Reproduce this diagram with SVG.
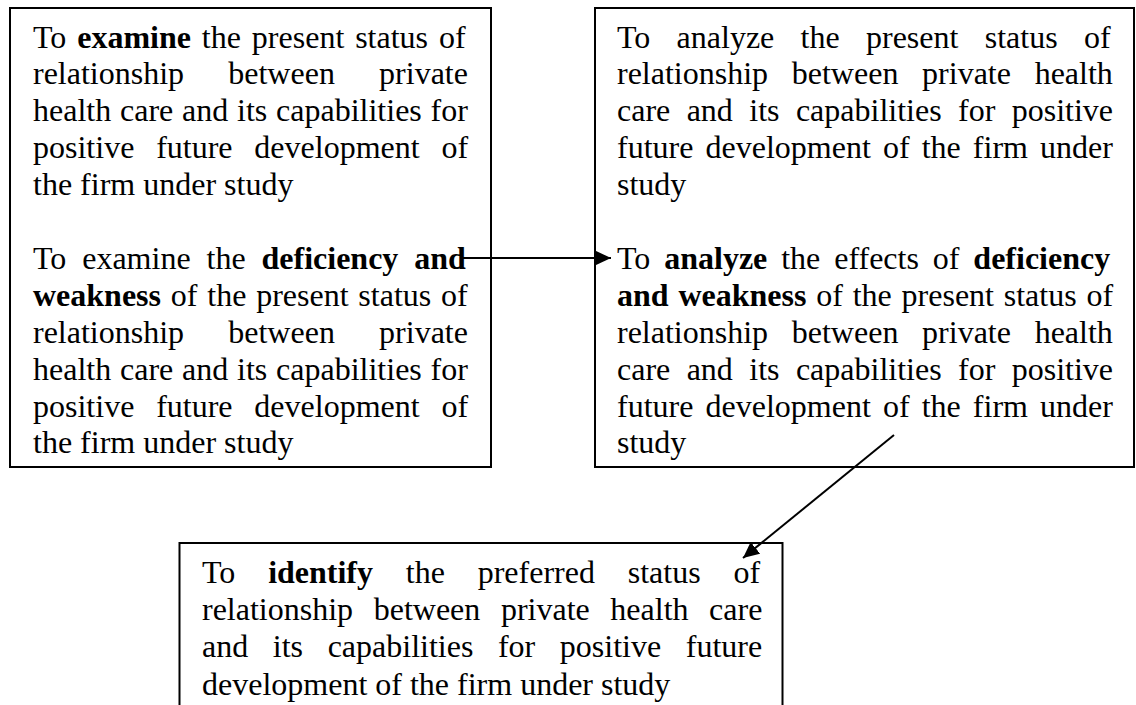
<svg xmlns="http://www.w3.org/2000/svg" width="1136" height="705" viewBox="0 0 1136 705">
  <style>
    .box { fill: #fff; stroke: #000; stroke-width: 2; }
    .t { font-family: "Liberation Serif", "Times New Roman", serif; font-size: 32px; fill: #000; }
    .b { font-weight: bold; }
    .conn { stroke: #000; stroke-width: 2; fill: none; }
  </style>
  <defs>
    <marker id="arrow" markerUnits="userSpaceOnUse" markerWidth="17" markerHeight="15" refX="16" refY="7.5" orient="auto">
      <path d="M0,0 L16,7.5 L0,15 z" fill="#000"/>
    </marker>
  </defs>

  <rect width="1136" height="705" fill="#fff"/>

  <!-- Left box: examine -->
  <g id="node-examine">
    <rect class="box" x="10" y="8" width="481" height="459"/>
    <text class="t" x="33" y="47.5" word-spacing="2.9">To <tspan class="b">examine</tspan> the present status of</text>
    <text class="t" x="33" y="84.4" word-spacing="36.2">relationship between private</text>
    <text class="t" x="33" y="121.3" word-spacing="0.8">health care and its capabilities for</text>
    <text class="t" x="33" y="158.2" word-spacing="13.8">positive future development of</text>
    <text class="t" x="33" y="195.1">the firm under study</text>
    <text class="t" x="33" y="268.9" word-spacing="7.9">To examine the <tspan class="b">deficiency and</tspan></text>
    <text class="t" x="33" y="305.8" word-spacing="1.8"><tspan class="b">weakness</tspan> of the present status of</text>
    <text class="t" x="33" y="342.7" word-spacing="36.2">relationship between private</text>
    <text class="t" x="33" y="379.6" word-spacing="0.8">health care and its capabilities for</text>
    <text class="t" x="33" y="416.5" word-spacing="13.8">positive future development of</text>
    <text class="t" x="33" y="453.4">the firm under study</text>
  </g>

  <!-- Right box: analyze -->
  <g id="node-analyze">
    <rect class="box" x="595" y="8" width="539" height="459"/>
    <text class="t" x="617" y="47.5" word-spacing="18.3">To analyze the present status of</text>
    <text class="t" x="617" y="84.4" word-spacing="15.7">relationship between private health</text>
    <text class="t" x="617" y="121.3" word-spacing="8.4">care and its capabilities for positive</text>
    <text class="t" x="617" y="158.2" word-spacing="4.1">future development of the firm under</text>
    <text class="t" x="617" y="195.1">study</text>
    <text class="t" x="617" y="268.9" word-spacing="5.9">To <tspan class="b">analyze</tspan> the effects of <tspan class="b">deficiency</tspan></text>
    <text class="t" x="617" y="305.8" word-spacing="1.8"><tspan class="b">and weakness</tspan> of the present status of</text>
    <text class="t" x="617" y="342.7" word-spacing="15.7">relationship between private health</text>
    <text class="t" x="617" y="379.6" word-spacing="8.4">care and its capabilities for positive</text>
    <text class="t" x="617" y="416.5" word-spacing="4.1">future development of the firm under</text>
    <text class="t" x="617" y="453.4">study</text>
  </g>

  <!-- Bottom box: identify (runs past the lower edge) -->
  <g id="node-identify">
    <rect class="box" x="179.5" y="543" width="603" height="180"/>
    <text class="t" x="202" y="583" word-spacing="24.8">To <tspan class="b">identify</tspan> the preferred status of</text>
    <text class="t" x="202" y="620" word-spacing="12.6">relationship between private health care</text>
    <text class="t" x="202" y="657" word-spacing="16.6">and its capabilities for positive future</text>
    <text class="t" x="202" y="695">development of the firm under study</text>
  </g>

  <!-- Connectors -->
  <g id="connectors">
    <line class="conn" x1="463" y1="258" x2="611" y2="258" marker-end="url(#arrow)"/>
    <line class="conn" x1="894" y1="435" x2="743" y2="558" marker-end="url(#arrow)"/>
  </g>
</svg>
